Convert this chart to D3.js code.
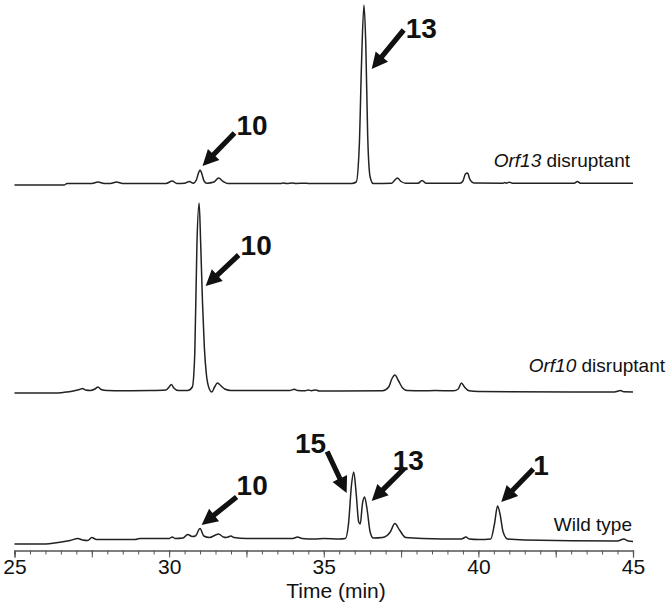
<!DOCTYPE html>
<html>
<head>
<meta charset="utf-8">
<script src="https://cdn.jsdelivr.net/npm/d3@7/dist/d3.min.js"></script>
<style>
  html, body { margin: 0; padding: 0; background: #fff; }
  svg { display: block; }
  text { font-family: "Liberation Sans", Arial, sans-serif; fill: #111; }
</style>
</head>
<body>
<svg id="chart" width="672" height="613"></svg>
<script>
// ---------------- DATA ----------------
// Time axis (min)
const timeDomain = [25, 45];
const tickLabels = [25, 30, 35, 40, 45];

// Trace names
const traceNames = ["Orf13 disruptant", "Orf10 disruptant", "Wild type"];

// Orf13 disruptant trace: retention time (min) and detector signal (arb. units)
const orf13Times  = [25, 26.6, 26.7, 27.5, 27.7, 27.9, 28.1, 28.3, 28.5, 29.9, 30.1, 30.25, 30.5, 30.65, 30.78, 30.88, 30.95, 31.0, 31.05, 31.13, 31.22, 31.45, 31.6, 31.75, 31.9, 33.6, 33.7, 33.8, 34.0, 34.1, 34.4, 34.5, 35.9, 36.05, 36.15, 36.22, 36.3, 36.36, 36.42, 36.5, 36.6, 37.2, 37.3, 37.38, 37.5, 37.65, 38.05, 38.18, 38.3, 39.4, 39.5, 39.58, 39.65, 39.72, 39.85, 40.8, 40.85, 40.9, 41.0, 41.1, 43.1, 43.2, 43.3, 45];
const orf13Signal = [0, 0, 1.5, 1.5, 3, 1.5, 1.5, 3, 1.5, 1.5, 4, 1.5, 1.8, 3.5, 1.8, 5, 12, 15, 12, 4, 1.8, 3, 7, 3.5, 1.5, 1.5, 2, 1.5, 2, 1.5, 1.8, 1.5, 1.5, 3, 40, 120, 180, 140, 50, 8, 1.5, 1.8, 5, 7, 3.5, 1.8, 1.8, 4.5, 1.8, 1.8, 4, 11, 12, 6, 2, 1.8, 2.5, 1.8, 2.8, 1.8, 1.8, 3.5, 1.8, 1.8];

// Orf10 disruptant trace
const orf10Times  = [25, 26.3, 26.6, 26.9, 27.1, 27.2, 27.3, 27.45, 27.6, 27.7, 27.8, 28.0, 28.5, 29.4, 29.9, 30.0, 30.07, 30.15, 30.3, 30.6, 30.75, 30.83, 30.9, 30.97, 31.02, 31.08, 31.14, 31.2, 31.3, 31.38, 31.47, 31.56, 31.65, 31.8, 32.0, 32.5, 33.9, 34.05, 34.15, 34.4, 34.5, 34.6, 34.75, 34.85, 35.5, 36.9, 37.1, 37.2, 37.3, 37.42, 37.55, 37.7, 38.2, 38.6, 39.2, 39.35, 39.45, 39.55, 39.7, 40.0, 44.4, 44.6, 44.7, 45];
const orf10Signal = [0, 0, 0.7, 2, 3.5, 4.5, 3, 2.5, 4, 6, 3.5, 2.5, 2.3, 2.5, 3, 6, 8.5, 5, 2.5, 2.5, 6, 40, 150, 190, 150, 90, 45, 20, 4, 1, 6, 10, 8, 4, 2.5, 2.5, 2.5, 3.8, 2.5, 2.3, 3, 2.3, 3, 2, 2, 2.2, 6, 14, 18, 12, 5, 2.5, 2.2, 2.5, 2.2, 4, 10, 6, 2.2, 1.5, 1, 2.5, 1.2, 1];

// Wild type trace
const wildTimes  = [25, 26.0, 26.4, 26.8, 27.05, 27.2, 27.37, 27.5, 27.65, 28.0, 28.9, 29.05, 30.0, 30.1, 30.2, 30.45, 30.6, 30.75, 30.85, 31.0, 31.12, 31.3, 31.6, 31.75, 31.85, 32.0, 32.1, 32.5, 34.0, 34.15, 34.3, 34.7, 35.0, 35.5, 35.7, 35.8, 35.9, 35.97, 36.05, 36.13, 36.18, 36.25, 36.32, 36.4, 36.5, 36.6, 36.9, 37.15, 37.3, 37.45, 37.65, 38.2, 39.45, 39.6, 39.7, 40.0, 40.4, 40.52, 40.62, 40.7, 40.8, 40.95, 41.5, 44.5, 44.7, 44.85, 45];
const wildSignal = [0, 0, 1.5, 3.5, 5.5, 4, 3.5, 6.5, 4.5, 4.5, 4.5, 5.5, 5.5, 7, 5.5, 6, 9.5, 7.5, 8, 15.5, 8, 6.5, 10, 7, 6.5, 8, 6.5, 5.5, 5.5, 7, 5.5, 5, 5.5, 5, 5.5, 20, 60, 72, 50, 22, 20, 40, 47, 35, 12, 6, 6.5, 12, 20.5, 14, 6.5, 5.5, 5, 7, 5, 4.5, 5, 20, 38, 30, 12, 5, 4, 3, 5, 3, 2.5];

// Annotated compounds: trace index, compound label, time (min) and signal at the arrow tip
const annTrace = [0, 0, 1, 2, 2, 2, 2];
const annLabel = ["10", "13", "10", "10", "15", "13", "1"];
const annTime  = [31.08, 36.55, 31.18, 31.05, 35.74, 36.55, 40.74];
const annValue = [19, 116, 107, 19, 51, 43, 42];

// ---------------- LAYOUT ----------------
const svg = d3.select("#chart");
const x = d3.scaleLinear().domain(timeDomain).range([14.5, 633]);
const traceZero = [185, 393, 544];           // pixel y of signal 0 for each trace
const y = d3.scaleLinear().domain([0, 200]).range([0, -200]);

const traces = [
  {t: orf13Times, v: orf13Signal},
  {t: orf10Times, v: orf10Signal},
  {t: wildTimes,  v: wildSignal}
];

const line = d3.line()
  .x(d => x(d[0]))
  .y(d => y(d[1]))
  .curve(d3.curveMonotoneX);

traces.forEach((tr, i) => {
  const pts = tr.t.map((t, k) => [t, tr.v[k]]);
  svg.append("g")
    .attr("transform", `translate(0,${traceZero[i]})`)
    .append("path")
    .datum(pts)
    .attr("d", line)
    .attr("fill", "none")
    .attr("stroke", "#222")
    .attr("stroke-width", 1.5)
    .attr("stroke-linejoin", "round");
});

// trace names
const nameLayout = [
  {x: 630, y: 167},
  {x: 665, y: 372},
  {x: 632, y: 531}
];
traceNames.forEach((n, i) => {
  const t = svg.append("text")
    .attr("x", nameLayout[i].x)
    .attr("y", nameLayout[i].y)
    .attr("text-anchor", "end")
    .style("font-size", "19px");
  const m = n.match(/^(Orf\d+)(.*)$/);
  if (m) {
    t.append("tspan").style("font-style", "italic").text(m[1]);
    t.append("tspan").text(m[2]);
  } else {
    t.text(n);
  }
});

// ---------------- AXIS ----------------
const axisY = 550.5;
const minorTicks = d3.range(timeDomain[0], timeDomain[1] + 0.001, 0.5);
const majorTicks = d3.range(timeDomain[0], timeDomain[1] + 0.001, 2.5);

const gMinor = svg.append("g").attr("transform", `translate(0,${axisY})`)
  .call(d3.axisBottom(x).tickValues(minorTicks).tickSize(4).tickFormat(""));
const gMajor = svg.append("g").attr("transform", `translate(0,${axisY})`)
  .call(d3.axisBottom(x).tickValues(majorTicks).tickSize(7).tickFormat(""));
const gLab = svg.append("g").attr("transform", `translate(0,${axisY})`)
  .call(d3.axisBottom(x).tickValues(tickLabels).tickSize(0).tickFormat(d3.format("d")));

[gMinor, gMajor, gLab].forEach(g => {
  g.select(".domain").attr("stroke", "#555").attr("stroke-width", 1.2);
  g.selectAll(".tick line").attr("stroke", "#555").attr("stroke-width", 1);
});
gLab.select(".domain").remove();
gLab.selectAll(".tick text")
  .attr("dy", null)
  .attr("y", 23)
  .style("font-size", "21px")
  .style("font-family", "'Liberation Sans', Arial, sans-serif")
  .attr("fill", "#111");

svg.append("text")
  .attr("x", 336)
  .attr("y", 598)
  .attr("text-anchor", "middle")
  .style("font-size", "21px")
  .text("Time (min)");

// ---------------- ARROWS ----------------
// arrow vector (tail minus tip, px) and label offset from the tail
const arrowLayout = [
  {dx: 32, dy: -33, lx: 2, ly: 2, anchor: "start"},
  {dx: 32, dy: -39, lx: 2, ly: 8, anchor: "start"},
  {dx: 33, dy: -31, lx: 2, ly: 0, anchor: "start"},
  {dx: 35, dy: -28, lx: 0, ly: -2, anchor: "start"},
  {dx: -19.5, dy: -41.5, lx: -1, ly: 1, anchor: "end"},
  {dx: 33, dy: -33, lx: -12, ly: 2, anchor: "start"},
  {dx: 32, dy: -33, lx: 0, ly: 6, anchor: "start"}
];

function arrowPath(x0, y0, x1, y1) {
  // tip at (x0,y0), tail at (x1,y1)
  const L = Math.hypot(x1 - x0, y1 - y0);
  const ux = (x1 - x0) / L, uy = (y1 - y0) / L;   // tip -> tail
  const px = -uy, py = ux;
  const headLen = 16, headW = 8, shaftW = 2.6;
  const bx = x0 + ux * headLen, by = y0 + uy * headLen;
  const pts = [
    [x0, y0],
    [bx + px * headW, by + py * headW],
    [bx + px * shaftW, by + py * shaftW],
    [x1 + px * shaftW, y1 + py * shaftW],
    [x1 - px * shaftW, y1 - py * shaftW],
    [bx - px * shaftW, by - py * shaftW],
    [bx - px * headW, by - py * headW]
  ];
  return "M" + pts.map(p => p.join(",")).join("L") + "Z";
}

annLabel.forEach((lab, i) => {
  const tipX = x(annTime[i]);
  const tipY = traceZero[annTrace[i]] + y(annValue[i]);
  const L = arrowLayout[i];
  const tailX = tipX + L.dx, tailY = tipY + L.dy;
  svg.append("path")
    .attr("d", arrowPath(tipX, tipY, tailX, tailY))
    .attr("fill", "#111");
  svg.append("text")
    .attr("x", tailX + L.lx)
    .attr("y", tailY + L.ly)
    .attr("text-anchor", L.anchor)
    .style("font-size", "28px")
    .style("font-weight", "bold")
    .text(lab);
});
</script>
</body>
</html>
